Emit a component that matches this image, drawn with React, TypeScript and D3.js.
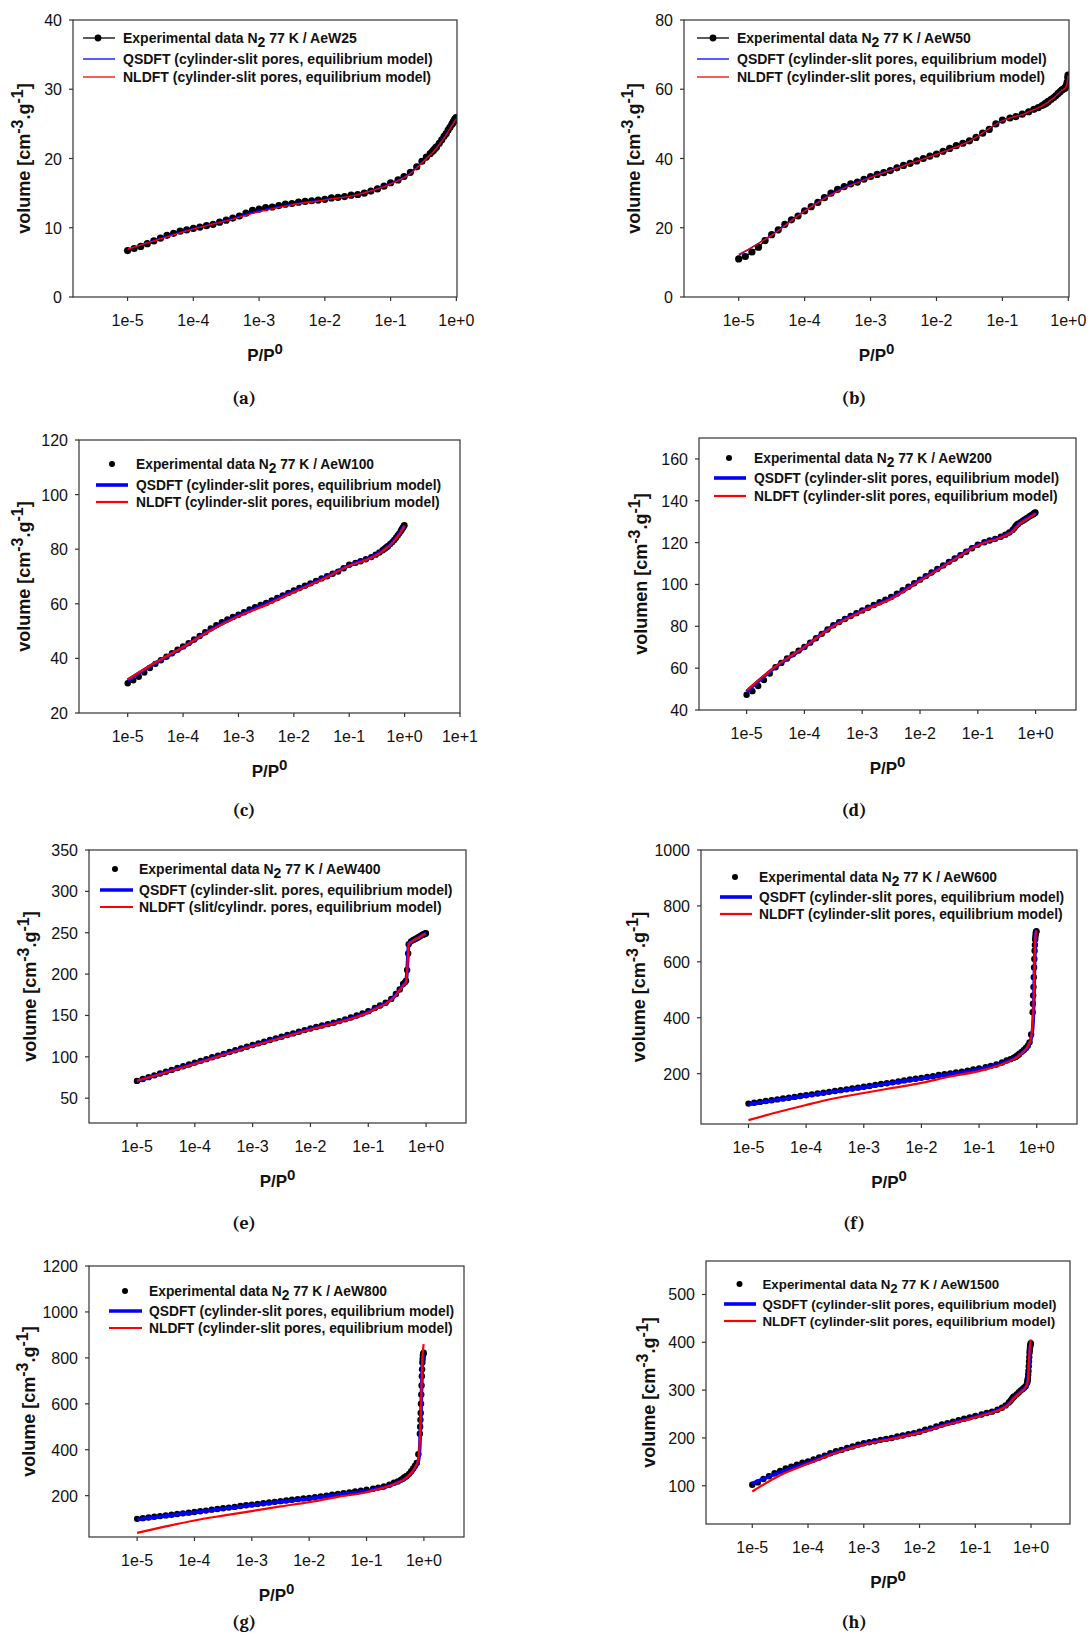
import React from 'react';
import * as d3 from 'd3';

// P/P0 grid of the experimental points: log10 values at low pressure, then plain values near saturation
const LOG_P_LOW = [
  -5.0, -4.9, -4.8, -4.7, -4.6, -4.5, -4.4, -4.3, -4.2, -4.1, -4.0, -3.9, -3.8, -3.7, -3.6, -3.5, -3.4, -3.3, -3.2, -3.1,
  -3.0, -2.9, -2.8, -2.7, -2.6, -2.5, -2.4, -2.3, -2.2, -2.1, -2.0, -1.9, -1.8, -1.7, -1.6, -1.5, -1.4, -1.3, -1.2, -1.1, -1.0,
];
const P_HIGH = [
  0.13, 0.16, 0.2, 0.25, 0.3, 0.35, 0.4, 0.43, 0.45, 0.47, 0.49, 0.5, 0.55, 0.6, 0.65, 0.7, 0.75, 0.8, 0.85, 0.88, 0.9,
  0.92, 0.94, 0.96, 0.98, 0.99,
];
const EXP_P = [...LOG_P_LOW.map(l => Math.pow(10, l)), ...P_HIGH];
// extra points measured on the steep condensation step (only the wide-pore samples)
const P_TOP = [0.86, 0.87, 0.89, 0.91, 0.93, 0.95, 0.97];

// P/P0 grid of the DFT fits
const MODEL_P = [
  1e-5, 3.16e-5, 1e-4, 3.16e-4, 1e-3, 3.16e-3, 1e-2, 3.16e-2, 0.1,
  0.15, 0.2, 0.3, 0.4, 0.45, 0.47, 0.49, 0.5, 0.6, 0.7, 0.8, 0.85, 0.88, 0.9, 0.92, 0.94, 0.96, 0.98, 0.99,
];

// volume adsorbed [cm3/g]
const aew25Exp = [
  6.7, 7.0, 7.3, 7.7, 8.1, 8.5, 8.9, 9.2, 9.5, 9.7, 9.9, 10.1, 10.3, 10.5, 10.8, 11.1, 11.4, 11.7, 12.1, 12.5, 12.7,
  12.9, 13.0, 13.2, 13.4, 13.5, 13.7, 13.8, 13.9, 14.0, 14.1, 14.3, 14.4, 14.5, 14.7, 14.8, 15.0, 15.3, 15.6, 16.0, 16.5,
  16.9, 17.4, 18.0, 18.8, 19.6, 20.2, 20.7, 21.0, 21.2, 21.4, 21.6, 21.7, 22.2, 22.7, 23.2, 23.6, 24.1, 24.5, 24.9, 25.1,
  25.3, 25.4, 25.6, 25.7, 25.8, 25.9,
];
const aew25Qsdft = [6.8, 8.5, 9.9, 11.1, 12.5, 13.4, 14.1, 14.8, 16.4, 17.2, 17.9, 19.5, 20.6, 21.1, 21.3, 21.5, 21.6, 22.6, 23.5, 24.4, 24.8, 25.0, 25.2, 25.3, 25.5, 25.6, 25.7, 25.8];
const aew25Nldft = [6.9, 8.4, 9.8, 11.0, 12.3, 13.3, 14.0, 14.8, 16.3, 17.1, 17.8, 19.4, 20.5, 21.0, 21.2, 21.4, 21.5, 22.5, 23.4, 24.3, 24.7, 24.9, 25.1, 25.2, 25.4, 25.5, 25.6, 25.7];

const aew50Exp = [
  11.0, 11.7, 13.0, 14.4, 16.3, 18.0, 19.4, 21.0, 22.3, 23.4, 24.9, 26.1, 27.3, 28.7, 30.0, 31.1, 31.9, 32.7, 33.2, 34.0,
  34.8, 35.4, 35.9, 36.5, 37.3, 38.0, 38.6, 39.3, 40.0, 40.7, 41.3, 42.1, 42.9, 43.7, 44.4, 45.1, 46.1, 47.3, 48.4, 50.0, 51.1,
  51.7, 52.1, 52.8, 53.5, 54.2, 54.7, 55.3, 55.6, 55.9, 56.1, 56.4, 56.5, 57.1, 57.6, 58.2, 58.8, 59.3, 59.8, 60.1, 60.3,
  60.5, 60.8, 61.3, 62.1, 63.4, 64.1,
];
const aew50Qsdft = [12.0, 18.0, 25.0, 30.8, 34.7, 38.0, 41.3, 45.0, 50.8, 52.0, 52.7, 54.1, 55.2, 55.8, 56.0, 56.2, 56.4, 57.5, 58.7, 59.7, 60.0, 60.2, 60.4, 60.7, 61.2, 62.0, 63.3, 64.0];
const aew50Nldft = [12.3, 17.8, 24.8, 30.5, 34.5, 37.9, 41.2, 45.0, 50.9, 52.0, 52.7, 54.1, 55.2, 55.8, 56.0, 56.2, 56.4, 57.5, 58.7, 59.7, 60.0, 60.2, 60.4, 60.7, 61.2, 62.0, 63.3, 64.0];

const aew100Exp = [
  30.9, 32.0, 33.3, 34.8, 36.5, 38.0, 39.3, 40.6, 41.9, 43.2, 44.4, 45.6, 46.9, 48.2, 49.6, 51.0, 52.2, 53.3, 54.3, 55.2,
  56.0, 56.9, 57.9, 58.8, 59.6, 60.3, 61.2, 62.1, 63.1, 64.0, 64.9, 65.8, 66.6, 67.5, 68.4, 69.3, 70.1, 71.0, 71.8, 73.0, 74.3,
  75.0, 75.6, 76.3, 77.1, 78.0, 78.8, 79.6, 80.1, 80.4, 80.7, 81.0, 81.1, 81.9, 82.6, 83.4, 84.2, 85.0, 85.8, 86.6, 87.1,
  87.4, 87.7, 88.0, 88.3, 88.6, 88.8,
];
const aew100Qsdft = [32.0, 38.3, 44.0, 50.5, 55.7, 60.0, 64.6, 69.0, 74.0, 75.4, 76.2, 77.9, 79.5, 80.3, 80.6, 80.9, 81.0, 82.5, 84.1, 85.7, 86.5, 87.0, 87.3, 87.6, 87.9, 88.2, 88.5, 88.7];
const aew100Nldft = [32.3, 38.5, 44.2, 50.3, 55.4, 59.6, 64.3, 68.8, 73.9, 75.2, 76.0, 77.7, 79.3, 80.1, 80.4, 80.7, 80.8, 82.3, 83.9, 85.5, 86.3, 86.8, 87.1, 87.4, 87.7, 88.0, 88.3, 88.5];

const aew200Exp = [
  47.3, 49.0, 51.5, 54.3, 57.4, 60.4, 62.5, 64.6, 66.6, 68.4, 70.1, 72.2, 74.3, 76.4, 78.5, 80.5, 82.0, 83.5, 84.9, 86.3,
  87.6, 88.9, 90.2, 91.5, 92.7, 94.0, 95.6, 97.2, 98.9, 100.6, 102.3, 104.0, 105.7, 107.4, 109.1, 110.8, 112.4, 114.0, 115.6,
  117.3, 119.0,
  120.2, 121.0, 121.8, 122.8, 123.8, 124.8, 126.0, 127.0, 127.8, 128.4, 128.8, 129.0, 129.8, 130.5, 131.1, 131.7, 132.2,
  132.7, 133.1, 133.4, 133.5, 133.7, 133.9, 134.1, 134.3, 134.4,
];
const aew200Qsdft = [48.8, 60.5, 70.0, 80.3, 87.4, 93.5, 102.0, 110.5, 118.8, 120.7, 121.6, 123.6, 125.6, 127.2, 127.7, 128.2, 128.6, 130.2, 131.4, 132.4, 132.8, 133.0, 133.2, 133.4, 133.6, 133.8, 134.0, 134.2];
const aew200Nldft = [49.3, 60.8, 70.2, 80.0, 87.2, 93.2, 101.8, 110.3, 118.6, 120.5, 121.4, 123.4, 125.4, 127.0, 127.5, 128.0, 128.4, 130.0, 131.2, 132.2, 132.6, 132.8, 133.0, 133.2, 133.4, 133.6, 133.8, 134.0];

const aew400Exp = [
  70.9, 73.2, 75.4, 77.6, 79.8, 82.0, 84.2, 86.4, 88.6, 90.8, 93.0, 95.1, 97.2, 99.4, 101.5, 103.6, 105.8, 107.9, 110.0,
  112.2, 114.3, 116.3, 118.3, 120.3, 122.3, 124.3, 126.3, 128.3, 130.3, 132.3, 134.3, 136.0, 137.8, 139.5, 141.3, 143.2,
  145.3, 147.6, 150.0, 152.5, 155.2,
  159.0, 162.0, 165.3, 170.0, 176.0, 181.5, 188.0, 190.0, 192.0, 205.0, 225.0, 236.0, 239.6, 241.2, 242.4, 243.6, 244.8,
  246.0, 247.2, 247.7, 248.0, 248.3, 248.6, 248.8, 249.2, 249.4,
];
const aew400Qsdft = [70.5, 81.5, 92.0, 103.0, 113.5, 123.5, 133.5, 142.5, 154.0, 160.5, 164.5, 175.0, 186.5, 190.5, 205.0, 228.0, 236.5, 240.5, 243.0, 245.5, 246.7, 247.3, 247.7, 248.0, 248.3, 248.6, 249.0, 249.2];
const aew400Nldft = [71.0, 81.0, 91.5, 102.5, 113.0, 123.0, 133.0, 142.0, 153.5, 160.0, 164.0, 174.5, 186.0, 190.0, 204.0, 227.0, 236.0, 240.5, 243.0, 245.5, 246.7, 247.3, 247.7, 248.0, 248.3, 248.6, 249.0, 249.2];

const aew600Exp = [
  93, 96, 99, 102, 105, 108, 111, 114, 117, 120, 123, 126, 129, 132, 135, 138, 141, 144, 147, 150, 153, 156, 160, 163,
  166, 169, 172, 176, 179, 182, 185, 188, 191, 195, 198, 201, 204, 207, 211, 215, 219,
  223, 228, 233, 240, 247, 252, 257, 260, 263, 266, 269, 271, 278, 285, 292, 300, 312, 340, 420, 510, 580, 640, 680, 700,
  708, 710,
];
const aew600ExpTop = [450, 480, 545, 610, 660, 690, 705];
const aew600Qsdft = [90, 106, 121, 136, 151, 167, 183, 198, 215, 224, 230, 243, 254, 259, 262, 265, 267, 280, 296, 325, 360, 420, 500, 590, 660, 700, 710, 712];
const aew600Nldft = [34, 62, 88, 112, 131, 149, 167, 190, 209, 219, 226, 240, 252, 258, 261, 264, 266, 280, 298, 330, 380, 450, 530, 610, 670, 700, 710, 712];

const aew800Exp = [
  99, 102, 105, 108, 111, 114, 117, 120, 123, 126, 129, 132, 135, 139, 142, 145, 148, 151, 155, 158, 161, 164, 167, 170,
  173, 176, 179, 182, 185, 188, 190, 193, 197, 200, 204, 207, 211, 214, 218, 222, 226,
  230, 235, 240, 248, 256, 262, 270, 274, 278, 281, 284, 286, 295, 306, 318, 330, 342, 380, 470, 560, 640, 720, 780, 810,
  818, 822,
];
const aew800ExpTop = [500, 530, 600, 680, 750, 795, 815];
const aew800Qsdft = [96, 112, 127, 143, 158, 173, 187, 203, 220, 230, 236, 250, 264, 271, 274, 277, 279, 297, 320, 350, 420, 520, 610, 700, 770, 805, 815, 818];
const aew800Nldft = [38, 66, 92, 113, 133, 153, 172, 195, 215, 227, 235, 250, 264, 271, 274, 278, 280, 298, 322, 360, 440, 540, 630, 720, 790, 830, 850, 860];

const aew1500Exp = [
  102, 107, 114, 120, 126, 131, 136, 140, 144, 148, 151, 155, 159, 163, 168, 172, 175, 179, 182, 186, 189, 191, 193, 196,
  198, 200, 203, 205, 208, 210, 213, 217, 220, 224, 228, 231, 234, 237, 240, 243, 246,
  249, 252, 255, 259, 263, 268, 274, 278, 281, 284, 286, 287, 291, 295, 299, 302, 305, 308, 315, 325, 340, 360, 378, 390,
  396, 398,
];
const aew1500ExpTop = [318, 321, 332, 350, 369, 384, 393];
const aew1500Qsdft = [105, 128, 148, 170, 187, 199, 212, 229, 244, 250, 254, 262, 272, 279, 282, 284, 285, 293, 300, 306, 313, 322, 335, 355, 375, 388, 394, 396];
const aew1500Nldft = [88, 122, 146, 169, 186, 198, 211, 228, 243, 249, 253, 261, 271, 278, 281, 283, 284, 292, 299, 306, 313, 323, 338, 360, 382, 396, 403, 406];

// axis ticks
const X_TICKS = [1e-5, 1e-4, 1e-3, 1e-2, 1e-1, 1];
const X_TICKS_WIDE = [1e-5, 1e-4, 1e-3, 1e-2, 1e-1, 1, 10];
const yTicksA = [0, 10, 20, 30, 40];
const yTicksB = [0, 20, 40, 60, 80];
const yTicksC = [20, 40, 60, 80, 100, 120];
const yTicksD = [40, 60, 80, 100, 120, 140, 160];
const yTicksE = [50, 100, 150, 200, 250, 300, 350];
const yTicksF = [200, 400, 600, 800, 1000];
const yTicksG = [200, 400, 600, 800, 1000, 1200];
const yTicksH = [100, 200, 300, 400, 500];

// legend texts
const QSDFT_LABEL = 'QSDFT (cylinder-slit pores, equilibrium model)';
const NLDFT_LABEL = 'NLDFT (cylinder-slit pores, equilibrium model)';
const QSDFT_LABEL_E = 'QSDFT (cylinder-slit. pores, equilibrium model)';
const NLDFT_LABEL_E = 'NLDFT (slit/cylindr. pores, equilibrium model)';

const FONT = "Arial, 'Liberation Sans', sans-serif";
const SERIF = "Cambria, 'Liberation Serif', 'DejaVu Serif', serif";

type Cfg = {
  tag: string;
  sample: string;
  exp: number[];
  expTop: number[];
  qsdft: number[];
  nldft: number[];
  box: [number, number, number, number];
  xDomain: [number, number];
  xTicks: number[];
  yDomain: [number, number];
  yTicks: number[];
  yTitle: string;
  yTitleX: number;
  legRows: [number, number, number];
  legSym: [number, number];
  legDot: number;
  legText: number;
  legFont: number;
  qLabel: string;
  nLabel: string;
  capX: number;
  capY: number;
  thin: boolean;
};

const panels: Cfg[] = [
  { tag: 'a', sample: 'AeW25', exp: aew25Exp, expTop: [], qsdft: aew25Qsdft, nldft: aew25Nldft, box: [73, 20, 457, 297],
    xDomain: [1.48e-6, 1.023], xTicks: X_TICKS, yDomain: [0, 40], yTicks: yTicksA, yTitle: 'volume', yTitleX: 30,
    legRows: [38, 59, 77], legSym: [83, 115], legDot: 98, legText: 123, legFont: 14, qLabel: QSDFT_LABEL, nLabel: NLDFT_LABEL,
    capX: 244, capY: 398, thin: true },
  { tag: 'b', sample: 'AeW50', exp: aew50Exp, expTop: [], qsdft: aew50Qsdft, nldft: aew50Nldft, box: [684, 20, 1069, 297],
    xDomain: [1.48e-6, 1.023], xTicks: X_TICKS, yDomain: [0, 80], yTicks: yTicksB, yTitle: 'volume', yTitleX: 640,
    legRows: [38, 59, 77], legSym: [697, 729], legDot: 713, legText: 737, legFont: 14, qLabel: QSDFT_LABEL, nLabel: NLDFT_LABEL,
    capX: 854, capY: 398, thin: true },
  { tag: 'c', sample: 'AeW100', exp: aew100Exp, expTop: [], qsdft: aew100Qsdft, nldft: aew100Nldft, box: [79, 440, 460, 713],
    xDomain: [1.32e-6, 10], xTicks: X_TICKS_WIDE, yDomain: [20, 120], yTicks: yTicksC, yTitle: 'volume', yTitleX: 30,
    legRows: [464, 485, 502], legSym: [96, 128], legDot: 112, legText: 136, legFont: 13.8, qLabel: QSDFT_LABEL, nLabel: NLDFT_LABEL,
    capX: 244, capY: 810, thin: false },
  { tag: 'd', sample: 'AeW200', exp: aew200Exp, expTop: [], qsdft: aew200Qsdft, nldft: aew200Nldft, box: [699, 438, 1076, 710],
    xDomain: [1.5e-6, 5], xTicks: X_TICKS, yDomain: [40, 170], yTicks: yTicksD, yTitle: 'volumen', yTitleX: 647,
    legRows: [458, 478, 496], legSym: [714, 746], legDot: 729, legText: 754, legFont: 13.8, qLabel: QSDFT_LABEL, nLabel: NLDFT_LABEL,
    capX: 854, capY: 810, thin: false },
  { tag: 'e', sample: 'AeW400', exp: aew400Exp, expTop: [], qsdft: aew400Qsdft, nldft: aew400Nldft, box: [89, 850, 466, 1123],
    xDomain: [1.48e-6, 4.9], xTicks: X_TICKS, yDomain: [20, 350], yTicks: yTicksE, yTitle: 'volume', yTitleX: 36,
    legRows: [869, 890, 907], legSym: [100, 133], legDot: 115, legText: 139, legFont: 14, qLabel: QSDFT_LABEL_E, nLabel: NLDFT_LABEL_E,
    capX: 244, capY: 1223, thin: false },
  { tag: 'f', sample: 'AeW600', exp: aew600Exp, expTop: aew600ExpTop, qsdft: aew600Qsdft, nldft: aew600Nldft, box: [701, 850, 1077, 1124],
    xDomain: [1.5e-6, 5], xTicks: X_TICKS, yDomain: [20, 1000], yTicks: yTicksF, yTitle: 'volume', yTitleX: 645,
    legRows: [877, 897, 914], legSym: [720, 752], legDot: 735, legText: 759, legFont: 13.8, qLabel: QSDFT_LABEL, nLabel: NLDFT_LABEL,
    capX: 854, capY: 1223, thin: false },
  { tag: 'g', sample: 'AeW800', exp: aew800Exp, expTop: aew800ExpTop, qsdft: aew800Qsdft, nldft: aew800Nldft, box: [89, 1266, 464, 1537],
    xDomain: [1.45e-6, 5], xTicks: X_TICKS, yDomain: [20, 1200], yTicks: yTicksG, yTitle: 'volume', yTitleX: 35,
    legRows: [1291, 1311, 1328], legSym: [109, 142], legDot: 125, legText: 149, legFont: 13.8, qLabel: QSDFT_LABEL, nLabel: NLDFT_LABEL,
    capX: 244, capY: 1622, thin: false },
  { tag: 'h', sample: 'AeW1500', exp: aew1500Exp, expTop: aew1500ExpTop, qsdft: aew1500Qsdft, nldft: aew1500Nldft, box: [706, 1261, 1070, 1524],
    xDomain: [1.48e-6, 5], xTicks: X_TICKS, yDomain: [20, 570], yTicks: yTicksH, yTitle: 'volume', yTitleX: 655,
    legRows: [1284, 1304, 1321], legSym: [724, 756], legDot: 739.5, legText: 762.5, legFont: 13.3, qLabel: QSDFT_LABEL, nLabel: NLDFT_LABEL,
    capX: 854, capY: 1622, thin: false },
];

const decadeLabel = (v: number) => {
  const e = Math.round(Math.log10(v));
  return `1e${e >= 0 ? '+' : ''}${e}`;
};

function Panel({ p }: { p: Cfg }) {
  const [x0, y0, x1, y1] = p.box;
  const x = d3.scaleLog().domain(p.xDomain).range([x0, x1]);
  const y = d3.scaleLinear().domain(p.yDomain).range([y1, y0]);

  const expPts: [number, number][] = EXP_P.map((v, i) => [v, p.exp[i]] as [number, number]).filter(d => d[1] != null);
  const topPts: [number, number][] = p.expTop.map((v, i) => [P_TOP[i], v] as [number, number]);
  const qPts: [number, number][] = MODEL_P.map((v, i) => [v, p.qsdft[i]] as [number, number]);
  const nPts: [number, number][] = MODEL_P.map((v, i) => [v, p.nldft[i]] as [number, number]);

  const smooth = d3.line<[number, number]>().x(d => x(d[0])).y(d => y(d[1])).curve(d3.curveMonotoneX);
  const straight = d3.line<[number, number]>().x(d => x(d[0])).y(d => y(d[1]));

  const blueW = p.thin ? 1.3 : 3.6;
  const redW = p.thin ? 1.3 : 2.2;
  const dotR = p.thin ? 3.6 : 3.2;
  const clipId = `clip-${p.tag}`;
  const midY = (y0 + y1) / 2;
  const midX = (x0 + x1) / 2;

  return (
    <g>
      <defs>
        <clipPath id={clipId}>
          <rect x={x0} y={y0} width={x1 - x0} height={y1 - y0} />
        </clipPath>
      </defs>

      {/* data */}
      <g clipPath={`url(#${clipId})`}>
        {p.thin && <path d={straight(expPts) || ''} fill="none" stroke="#000" strokeWidth={1.3} />}
        {[...expPts, ...topPts].map((d, i) => (
          <circle key={i} cx={x(d[0])} cy={y(d[1])} r={dotR} fill="#000" />
        ))}
        <path d={smooth(qPts) || ''} fill="none" stroke="#0000ff" strokeWidth={blueW} />
        <path d={smooth(nPts) || ''} fill="none" stroke="#ff0000" strokeWidth={redW} />
      </g>

      {/* frame */}
      <rect x={x0} y={y0} width={x1 - x0} height={y1 - y0} fill="none" stroke="#333" strokeWidth={1.2} />

      {/* x axis */}
      {p.xTicks.map(t => (
        <g key={t}>
          <line x1={x(t)} x2={x(t)} y1={y1} y2={y1 + 4} stroke="#333" strokeWidth={1.2} />
          <text x={x(t)} y={y1 + 29} textAnchor="middle" fontFamily={FONT} fontSize={16} fill="#111">
            {decadeLabel(t)}
          </text>
        </g>
      ))}

      {/* y axis */}
      {p.yTicks.map(t => (
        <g key={t}>
          <line x1={x0 - 4} x2={x0} y1={y(t)} y2={y(t)} stroke="#333" strokeWidth={1.2} />
          <text x={x0 - 11} y={y(t) + 6} textAnchor="end" fontFamily={FONT} fontSize={16} fill="#111">
            {t}
          </text>
        </g>
      ))}

      {/* axis titles */}
      <text x={midX} y={y1 + 64} textAnchor="middle" fontFamily={FONT} fontSize={17} fontWeight="bold" fill="#111">
        P/P<tspan dy={-7} fontSize={15}>0</tspan>
      </text>
      <text transform={`translate(${p.yTitleX},${midY}) rotate(-90)`} textAnchor="middle" fontFamily={FONT}
        fontSize={18} fontWeight="bold" fill="#111">
        {p.yTitle} [cm<tspan dy={-7} fontSize={16}>-3</tspan>
        <tspan dy={7}>.g</tspan>
        <tspan dy={-7} fontSize={16}>-1</tspan>
        <tspan dy={7}>]</tspan>
      </text>

      {/* legend */}
      <g fontFamily={FONT} fontSize={p.legFont} fontWeight="bold" fill="#111">
        {p.thin && <line x1={p.legSym[0]} x2={p.legSym[1]} y1={p.legRows[0]} y2={p.legRows[0]} stroke="#000" strokeWidth={1.3} />}
        <circle cx={p.legDot} cy={p.legRows[0]} r={p.thin ? 3.4 : 3} fill="#000" />
        <text x={p.legText} y={p.legRows[0] + 5}>
          Experimental data N<tspan dy={4}>2</tspan>
          <tspan dy={-4}> 77 K / {p.sample}</tspan>
        </text>
        <line x1={p.legSym[0]} x2={p.legSym[1]} y1={p.legRows[1]} y2={p.legRows[1]} stroke="#0000ff" strokeWidth={blueW} />
        <text x={p.legText} y={p.legRows[1] + 5}>{p.qLabel}</text>
        <line x1={p.legSym[0]} x2={p.legSym[1]} y1={p.legRows[2]} y2={p.legRows[2]} stroke="#ff0000" strokeWidth={redW} />
        <text x={p.legText} y={p.legRows[2] + 5}>{p.nLabel}</text>
      </g>

      {/* caption */}
      <text x={p.capX} y={p.capY + 6} textAnchor="middle" fontFamily={SERIF} fontSize={18} fontWeight="bold" fill="#111">
        ({p.tag})
      </text>
    </g>
  );
}

export default function App() {
  return (
    <svg width={1091} height={1633} style={{ position: 'absolute', left: 0, top: 0, background: '#fff' }}>
      <rect width={1091} height={1633} fill="#fff" />
      {panels.map(p => (
        <Panel key={p.tag} p={p} />
      ))}
    </svg>
  );
}
